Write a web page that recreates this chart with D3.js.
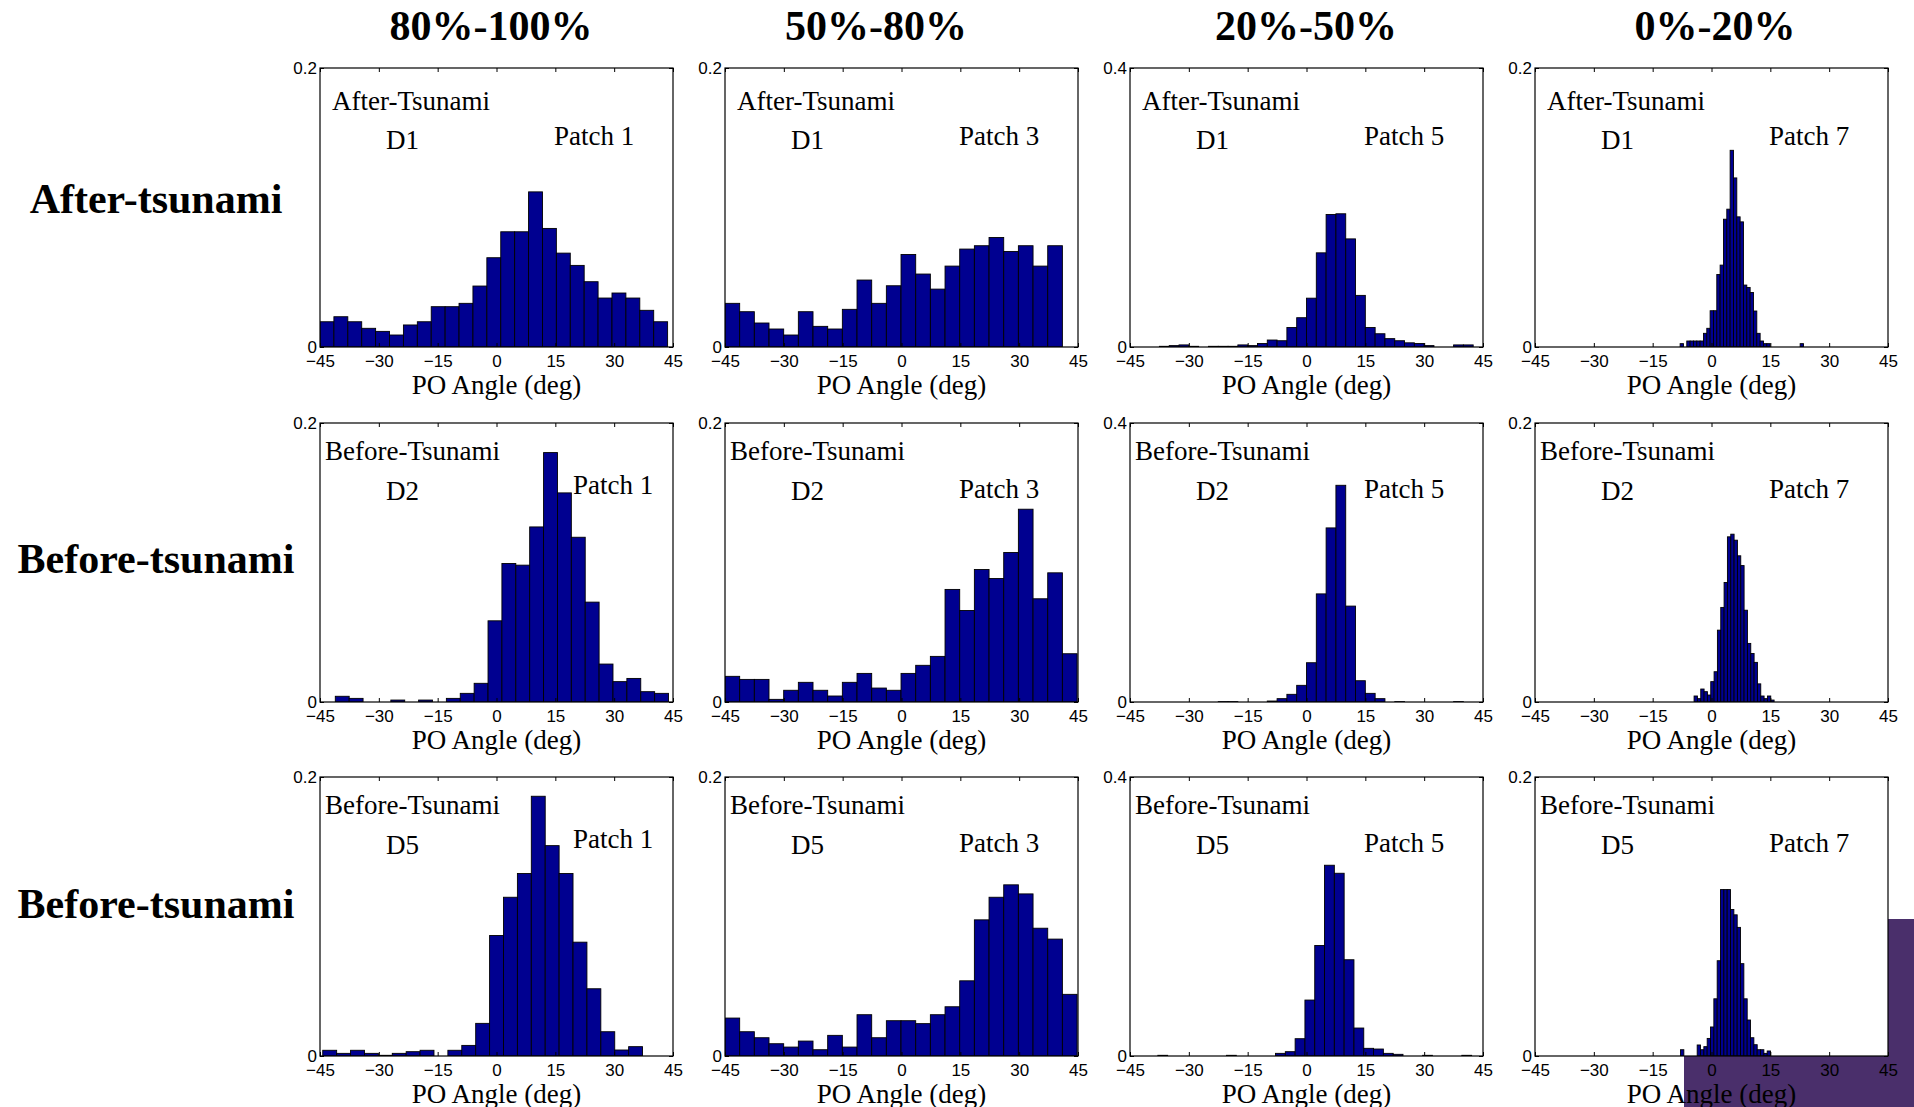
<!DOCTYPE html>
<html>
<head>
<meta charset="utf-8">
<script src="https://cdn.jsdelivr.net/npm/d3@7"></script>
<style>
  body { margin: 0; background: #fff; }
  svg { display: block; }
</style>
</head>
<body>
<div id="chart"></div>
<script>
// ── PO angle histograms, 3 rows (epochs) x 4 columns (coherence classes) ──
const colTitles  = ["80%-100%", "50%-80%", "20%-50%", "0%-20%"];
const rowTitles  = ["After-tsunami", "Before-tsunami", "Before-tsunami"];
const stateText  = ["After-Tsunami", "Before-Tsunami", "Before-Tsunami"];
const dataText   = ["D1", "D2", "D5"];
const patchText  = ["Patch 1", "Patch 3", "Patch 5", "Patch 7"];
const yMaxByCol  = [0.2, 0.2, 0.4, 0.2];
const xTicks     = [-45, -30, -15, 0, 15, 30, 45];

// first bin left edge (deg) and bin width (deg), per row / column
const binStart = [
  [-45, -45, -45, -8.0],
  [-41.1, -45, -45, -4.44],
  [-44.3, -45, -37.9, -7.9]
];
const binWidth = [
  [3.545, 3.74, 2.5, 0.85],
  [3.54, 3.74, 2.5, 0.85],
  [3.545, 3.74, 2.5, 0.85]
];

// relative frequencies, one array per panel
const d1p1 = [0.0181, 0.0217, 0.0181, 0.0134, 0.0112, 0.0086, 0.0158, 0.0181, 0.0289, 0.0289,
              0.0313, 0.0437, 0.0640, 0.0826, 0.0826, 0.1112, 0.0850, 0.0673, 0.0585, 0.0468,
              0.0351, 0.0387, 0.0351, 0.0263, 0.0181];
const d1p3 = [0.0313, 0.0253, 0.0172, 0.0129, 0.0086, 0.0253, 0.0148, 0.0129, 0.0270, 0.0480,
              0.0313, 0.0439, 0.0663, 0.0523, 0.0415, 0.0580, 0.0702, 0.0726, 0.0785, 0.0685,
              0.0726, 0.0580, 0.0726];
const d1p5 = [0, 0, 0, 0.001, 0.002, 0.003, 0.001, 0, 0.001, 0.001,
              0.001, 0.003, 0.002, 0.005, 0.010, 0.009, 0.028, 0.042, 0.070, 0.135,
              0.190, 0.191, 0.155, 0.074, 0.028, 0.019, 0.012, 0.009, 0.006, 0.005,
              0.002, 0, 0, 0.003, 0.003, 0];
const d1p7 = [0.0024, 0, 0.0043, 0.0043, 0.0043, 0.0043, 0.0043, 0.0098, 0.0134, 0.026,
              0.026, 0.052, 0.0587, 0.0916, 0.0988, 0.141, 0.1212, 0.0933, 0.0897, 0.0444,
              0.0427, 0.0391, 0.0258, 0.0098, 0.0043, 0.0024, 0.0024, 0, 0, 0,
              0, 0, 0, 0, 0, 0, 0.0024];
const d2p1 = [0.0041, 0.0026, 0, 0, 0.0014, 0, 0.0014, 0, 0.0026, 0.0062,
              0.0134, 0.0582, 0.0993, 0.0981, 0.1255, 0.1788, 0.1499, 0.1181, 0.0716, 0.0272,
              0.0146, 0.0169, 0.0074, 0.0062];
const d2p3 = [0.0184, 0.0162, 0.0162, 0.0019, 0.0084, 0.0141, 0.0084, 0.0043, 0.0141, 0.0205,
              0.0100, 0.0084, 0.0205, 0.0263, 0.0327, 0.0807, 0.0656, 0.0950, 0.0885, 0.1072,
              0.1382, 0.0740, 0.0926, 0.0346];
const d2p5 = [0, 0, 0, 0, 0, 0, 0, 0, 0, 0.0005,
              0.0005, 0, 0, 0, 0.0014, 0.0048, 0.011, 0.0239, 0.0563, 0.155,
              0.2496, 0.3107, 0.1375, 0.0305, 0.0124, 0.0048, 0, 0.0005, 0, 0,
              0, 0, 0, 0.0005, 0, 0];
const d2p7 = [0.0043, 0.0024, 0.0093, 0.0074, 0.005, 0.0146, 0.0217, 0.0515, 0.0678, 0.0857,
              0.1184, 0.1203, 0.116, 0.1048, 0.0978, 0.0658, 0.042, 0.0348, 0.0284, 0.013,
              0.0043, 0.0024, 0.0043, 0.0014];
const d5p1 = [0.0041, 0.0019, 0.0041, 0.0019, 0.0005, 0.0019, 0.0031, 0.0041, 0, 0.0041,
              0.0076, 0.0234, 0.0864, 0.1138, 0.1308, 0.1862, 0.1508, 0.1308, 0.0816, 0.0482,
              0.0174, 0.0043, 0.0067];
const d5p3 = [0.0272, 0.0174, 0.0131, 0.0088, 0.0064, 0.0107, 0.0045, 0.0148, 0.0064, 0.0296,
              0.0131, 0.0253, 0.0253, 0.0232, 0.0296, 0.0353, 0.0539, 0.0976, 0.1138, 0.1227,
              0.1162, 0.0916, 0.0838, 0.0442];
const d5p5 = [0.001, 0, 0, 0, 0, 0, 0, 0.001, 0, 0,
              0, 0, 0.0038, 0.0062, 0.0248, 0.0802, 0.1585, 0.2735, 0.262, 0.138,
              0.0401, 0.011, 0.010, 0.0038, 0.0024, 0, 0, 0.001, 0, 0,
              0, 0.001];
const d5p7 = [0.0045, 0, 0, 0, 0, 0.0079, 0.0045, 0.0067, 0.0126, 0.0208,
              0.041, 0.0683, 0.1193, 0.1193, 0.1193, 0.105, 0.1012, 0.0922, 0.0662, 0.041,
              0.0258, 0.0131, 0.0081, 0.0045, 0.0045, 0.0019, 0.0036];

const panelValues = [
  [d1p1, d1p3, d1p5, d1p7],
  [d2p1, d2p3, d2p5, d2p7],
  [d5p1, d5p3, d5p5, d5p7]
];

// ── layout ──
const width = 1914, height = 1107;
const plotW = 353, plotH = 279;
const colX = [320, 725, 1130, 1535];
const rowY = [68, 423, 777];
const colTitleX = [491, 876, 1306, 1715];
const rowTitleY = [213, 573, 918];
const barFill = "#000090";

const svg = d3.select("#chart").append("svg")
  .attr("width", width).attr("height", height)
  .attr("viewBox", `0 0 ${width} ${height}`);

// slide logo block sitting behind the last panel
svg.append("rect").attr("x", 1684).attr("y", 919).attr("width", 230).attr("height", 188)
  .attr("fill", "#4a2f6b");

svg.selectAll("text.coltitle").data(colTitles).join("text").attr("class", "coltitle")
  .attr("x", (d, i) => colTitleX[i]).attr("y", 40)
  .attr("text-anchor", "middle")
  .style("font-family", "'Liberation Serif', 'Times New Roman', serif")
  .style("font-weight", "bold").style("font-size", "42px")
  .text(d => d);

svg.selectAll("text.rowtitle").data(rowTitles).join("text").attr("class", "rowtitle")
  .attr("x", 156).attr("y", (d, i) => rowTitleY[i])
  .attr("text-anchor", "middle")
  .style("font-family", "'Liberation Serif', 'Times New Roman', serif")
  .style("font-weight", "bold").style("font-size", "42px")
  .text(d => d);

const serif = "'Liberation Serif', 'Times New Roman', serif";
const sans = "'Liberation Sans', Arial, sans-serif";

rowTitles.forEach((rt, r) => {
  colTitles.forEach((ct, c) => {
    const values = panelValues[r][c];
    const start = binStart[r][c], bw = binWidth[r][c];
    const yMax = yMaxByCol[c];

    const g = svg.append("g").attr("transform", `translate(${colX[c]},${rowY[r]})`);
    const xScale = d3.scaleLinear().domain([-45, 45]).range([0, plotW]);
    const yScale = d3.scaleLinear().domain([0, yMax]).range([plotH, 0]);

    g.append("rect").attr("width", plotW).attr("height", plotH).attr("fill", "#fff");

    const clipId = `clip-${r}-${c}`;
    g.append("clipPath").attr("id", clipId)
      .append("rect").attr("width", plotW).attr("height", plotH);

    const bins = values.map((v, i) => ({ x0: start + i * bw, x1: start + (i + 1) * bw, v }));
    g.append("g").attr("clip-path", `url(#${clipId})`)
      .selectAll("rect").data(bins.filter(b => b.v > 0)).join("rect")
      .attr("x", b => xScale(b.x0))
      .attr("width", b => xScale(b.x1) - xScale(b.x0))
      .attr("y", b => yScale(b.v))
      .attr("height", b => plotH - yScale(b.v))
      .attr("fill", barFill).attr("stroke", "#000").attr("stroke-width", 0.9);

    // axes with inward ticks (MATLAB style box)
    const xb = g.append("g").attr("transform", `translate(0,${plotH})`)
      .call(d3.axisBottom(xScale).tickValues(xTicks).tickSizeInner(-4).tickSizeOuter(0).tickPadding(8));
    xb.selectAll("text").style("font-family", sans).style("font-size", "17px").attr("fill", "#000");
    g.append("g")
      .call(d3.axisTop(xScale).tickValues(xTicks).tickSizeInner(-4).tickSizeOuter(0).tickFormat(""));
    const yl = g.append("g")
      .call(d3.axisLeft(yScale).tickValues([0, yMax]).tickSizeInner(-4).tickSizeOuter(0).tickPadding(3)
        .tickFormat(d => d === 0 ? "0" : String(d)));
    yl.selectAll("text").style("font-family", sans).style("font-size", "17px").attr("fill", "#000");
    g.append("g").attr("transform", `translate(${plotW},0)`)
      .call(d3.axisRight(yScale).tickValues([0, yMax]).tickSizeInner(-4).tickSizeOuter(0).tickFormat(""));
    g.selectAll(".domain").remove();
    g.selectAll(".tick line").attr("stroke", "#000");

    g.append("rect").attr("width", plotW).attr("height", plotH)
      .attr("fill", "none").attr("stroke", "#000").attr("stroke-width", 1.2);

    // in-panel annotations
    const after = r === 0;
    const note = (txt, x, y) => g.append("text").attr("x", x).attr("y", y)
      .style("font-family", serif).style("font-size", "27px").attr("fill", "#000").text(txt);
    note(stateText[r], after ? 12 : 5, after ? 42 : 37);
    note(dataText[r], 66, after ? 81 : 77);
    note(patchText[c], (!after && c === 0) ? 253 : 234, after ? 77 : (c === 0 ? 71 : 75));

    g.append("text").attr("x", plotW / 2).attr("y", plotH + 47)
      .attr("text-anchor", "middle")
      .style("font-family", serif).style("font-size", "27px").attr("fill", "#000")
      .text("PO Angle (deg)");
  });
});
</script>
</body>
</html>
